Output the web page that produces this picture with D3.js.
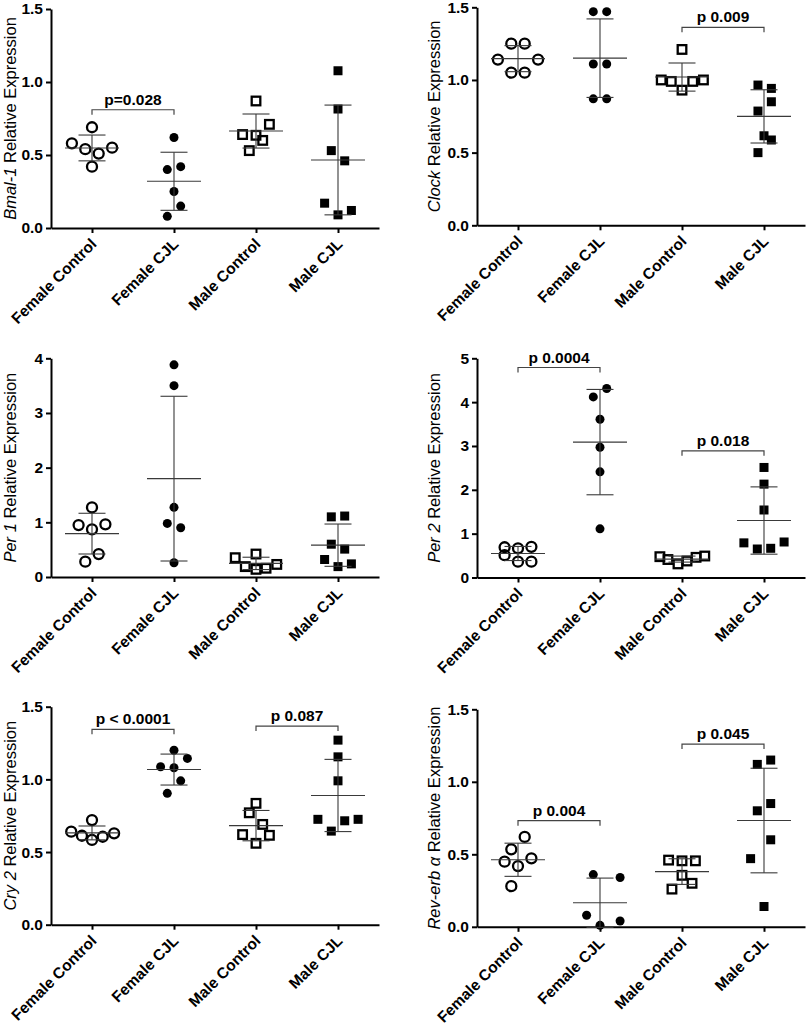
<!DOCTYPE html>
<html><head><meta charset="utf-8">
<script src="https://cdn.jsdelivr.net/npm/d3@7"></script>
<style>body{margin:0;background:#fff} text{font-family:"Liberation Sans",Arial,sans-serif}</style>
</head><body><svg id="c" width="807" height="1030"></svg>
<script>
const groups = ["Female Control","Female CJL","Male Control","Male CJL"];
const markers = ["openCircle","filledCircle","openSquare","filledSquare"];

const bmal1Values = [[0.69,0.58,0.54,0.51,0.55,0.42],[0.62,0.40,0.42,0.25,0.15,0.08],[0.87,0.71,0.64,0.635,0.60,0.53],[1.077,0.815,0.53,0.46,0.17,0.12,0.09]];
const bmal1Jitter = [[0,-3,-1,1,3,0],[0,-1,1,0,1,-1],[0,2,-2,0,1,-1],[0,0,-1,1,-2,2,0]];
const bmal1Ticks = [0,0.5,1,1.5];
const bmal1Brackets = [{a:0,b:1,y:0.81,label:"p=0.028"}];

const clockValues = [[1.25,1.25,1.14,1.14,1.05,1.05],[1.47,1.47,1.11,1.11,0.87,0.87],[1.21,1.00,0.99,0.99,1.00,0.93],[0.965,0.942,0.85,0.786,0.616,0.587,0.50]];
const clockJitter = [[-1,1,-3,3,-1,1],[-1,1,-1,1,-1,1],[0,-3.1,-1.6,1.6,3.2,0],[-0.9,1.1,1.1,-0.9,0,1.1,-0.9]];
const clockTicks = [0,0.5,1,1.5];
const clockBrackets = [{a:2,b:3,y:1.362,label:"p 0.009"}];

const per1Values = [[1.274,0.95,0.963,0.872,0.42,0.28],[3.88,3.50,1.274,0.98,0.90,0.26],[0.353,0.42,0.19,0.14,0.16,0.23],[1.10,1.115,0.60,0.51,0.32,0.19,0.24]];
const per1Jitter = [[0,-2,2,0,1,-1],[0,0,0,-1,1,0],[-3.1,0,-1.6,0,1.5,3.1],[-1,1,-1,1,-2,0,2]];
const per1Ticks = [0,1,2,3,4];
const per1Brackets = [];

const per2Values = [[0.69,0.666,0.70,0.51,0.36,0.36],[4.31,4.12,3.61,2.97,2.41,1.11],[0.475,0.41,0.31,0.376,0.46,0.49],[2.51,2.13,1.54,0.79,0.65,0.666,0.81]];
const per2Jitter = [[-2,0,2,-2,0,2],[1,-1,0,0,0,0],[-3.3,-2.1,-0.6,0.75,2.1,3.4],[0,0,0,-3,-1,1,3]];
const per2Ticks = [0,1,2,3,4,5];
const per2Brackets = [{a:0,b:1,y:4.79,label:"p 0.0004"},{a:2,b:3,y:2.89,label:"p 0.018"}];

const cry2Values = [[0.72,0.64,0.612,0.583,0.605,0.629],[1.20,1.144,1.087,1.08,0.99,0.904],[0.835,0.77,0.69,0.62,0.615,0.56],[1.27,1.155,0.99,0.725,0.715,0.725,0.644]];
const cry2Jitter = [[0,-3.1,-1.5,0,1.6,3.3],[0,2,-2,0,1,-1],[0,-1,1,-2,2,0],[0,0,0,-3,1,3,-1]];
const cry2Ticks = [0,0.5,1,1.5];
const cry2Brackets = [{a:0,b:1,y:1.344,label:"p < 0.0001"},{a:2,b:3,y:1.367,label:"p 0.087"}];

const revValues = [[0.62,0.534,0.472,0.449,0.419,0.28],[0.36,0.34,0.08,0.01,0.04],[0.46,0.455,0.455,0.355,0.26,0.30],[1.15,1.12,0.80,0.60,0.47,0.85,0.14]];
const revJitter = [[1,-1,2,-2,0,-1],[-1,3,-2,0,3],[-2,0,2,0,-1.5,1.5],[1,-1,-1,1,-2,1,0]];
const revTicks = [0,0.5,1,1.5];
const revBrackets = [{a:0,b:1,y:0.732,label:"p 0.004"},{a:2,b:3,y:1.26,label:"p 0.045"}];

const panels = [
  {gene:"Bmal-1", values:bmal1Values, jitter:bmal1Jitter, ticks:bmal1Ticks, brackets:bmal1Brackets, fmt:".1f", x0:51, top:9, bottom:228, lx:16},
  {gene:"Clock", values:clockValues, jitter:clockJitter, ticks:clockTicks, brackets:clockBrackets, fmt:".1f", x0:477, top:7.3, bottom:225.3, lx:440},
  {gene:"Per 1", values:per1Values, jitter:per1Jitter, ticks:per1Ticks, brackets:per1Brackets, fmt:"d", x0:51, top:358.3, bottom:577, lx:16},
  {gene:"Per 2", values:per2Values, jitter:per2Jitter, ticks:per2Ticks, brackets:per2Brackets, fmt:"d", x0:477, top:358.3, bottom:577.5, lx:440},
  {gene:"Cry 2", values:cry2Values, jitter:cry2Jitter, ticks:cry2Ticks, brackets:cry2Brackets, fmt:".1f", x0:51, top:706.7, bottom:924.7, lx:16},
  {gene:"Rev-erb \u03b1", values:revValues, jitter:revJitter, ticks:revTicks, brackets:revBrackets, fmt:".1f", x0:477, top:709.3, bottom:926.8, lx:440}
];

const svg = d3.select("#c");
const W = 328, JIT = 6.7, MEANHW = 27, CAPHW = 13.5;

panels.forEach(p => {
  const g = svg.append("g");
  const x = d3.scalePoint().domain(groups).range([p.x0, p.x0 + W]).padding(0.5);
  const yMax = p.ticks[p.ticks.length - 1];
  const y = d3.scaleLinear().domain([0, yMax]).range([p.bottom, p.top]);

  const ya = g.append("g").attr("transform", `translate(${p.x0},0)`)
    .call(d3.axisLeft(y).tickValues(p.ticks).tickFormat(d3.format(p.fmt)).tickSize(5).tickSizeOuter(0).tickPadding(3));
  const xa = g.append("g").attr("transform", `translate(0,${p.bottom})`)
    .call(d3.axisBottom(x).tickSize(5).tickSizeOuter(0).tickPadding(3));
  [ya, xa].forEach(a => {
    a.select(".domain").attr("stroke", "#000").attr("stroke-width", 2);
    a.selectAll(".tick line").attr("stroke", "#000").attr("stroke-width", 2);
    a.selectAll("text").attr("fill", "#000").style("font-size", "15.5px").style("font-weight", "bold")
      .style("font-family", '"Liberation Sans", Arial, sans-serif');
  });
  xa.selectAll(".tick text").attr("text-anchor", "end").attr("dy", null).attr("y", null)
    .attr("transform", "translate(5,17) rotate(-45)");

  // y label
  const lab = g.append("text").attr("transform", `translate(${p.lx},${(p.top + p.bottom) / 2}) rotate(-90)`)
    .attr("text-anchor", "middle").style("font-size", "16.5px").attr("fill", "#000");
  lab.append("tspan").style("font-style", "italic").text(p.gene);
  lab.append("tspan").text(" Relative Expression");

  // points
  p.values.forEach((vals, i) => {
    const cx0 = x(groups[i]);
    const type = markers[i];
    vals.forEach((v, k) => {
      const cx = cx0 + p.jitter[i][k] * JIT, cy = y(v);
      if (type === "openCircle") g.append("circle").attr("cx", cx).attr("cy", cy).attr("r", 5).attr("fill", "none").attr("stroke", "#000").attr("stroke-width", 2.3);
      else if (type === "filledCircle") g.append("circle").attr("cx", cx).attr("cy", cy).attr("r", 4.5).attr("fill", "#000");
      else if (type === "openSquare") g.append("rect").attr("x", cx - 4.3).attr("y", cy - 4.3).attr("width", 8.6).attr("height", 8.6).attr("fill", "none").attr("stroke", "#000").attr("stroke-width", 2.3);
      else g.append("rect").attr("x", cx - 4.5).attr("y", cy - 4.5).attr("width", 9).attr("height", 9).attr("fill", "#000");
    });
    // mean and SD
    const m = d3.mean(vals), sd = d3.deviation(vals);
    const eb = g.append("g").attr("stroke", "#3a3a3a").attr("stroke-width", 1.1);
    eb.append("line").attr("x1", cx0 - MEANHW).attr("x2", cx0 + MEANHW).attr("y1", y(m)).attr("y2", y(m));
    eb.append("line").attr("x1", cx0).attr("x2", cx0).attr("y1", y(m + sd)).attr("y2", y(Math.max(0, m - sd)));
    [m + sd, m - sd].forEach(e => {
      eb.append("line").attr("x1", cx0 - CAPHW).attr("x2", cx0 + CAPHW).attr("y1", y(e)).attr("y2", y(e));
    });
  });

  // brackets
  p.brackets.forEach(b => {
    const xa1 = x(groups[b.a]), xb1 = x(groups[b.b]), yb = y(b.y);
    g.append("path").attr("d", `M${xa1},${yb + 5}V${yb}H${xb1}V${yb + 5}`)
      .attr("fill", "none").attr("stroke", "#444").attr("stroke-width", 1.2);
    g.append("text").attr("x", (xa1 + xb1) / 2).attr("y", yb - 5).attr("text-anchor", "middle")
      .style("font-size", "15.5px").style("font-weight", "bold").attr("fill", "#000").text(b.label);
  });
});
</script></body></html>
